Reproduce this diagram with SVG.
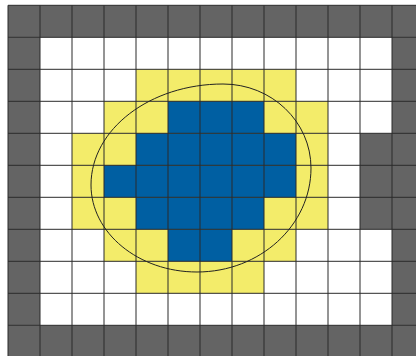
<svg xmlns="http://www.w3.org/2000/svg" width="416" height="356" viewBox="0 0 416 356">
<style>
.g{fill:#646464}
.y{fill:#f3ec6a}
.b{fill:#005fa2}
.grid{fill:none;stroke:#2b2b2b;stroke-width:1}
.shape{fill:none;stroke:#222;stroke-width:1}
</style>
<rect width="416" height="356" fill="#ffffff"/>
<g id="cells" transform="translate(8,5.3)">
<g id="walls">
<rect class="g" x="0" y="0" width="416" height="32"/>
<rect class="g" x="0" y="320" width="416" height="40"/>
<rect class="g" x="0" y="32" width="32" height="288"/>
<rect class="g" x="384" y="32" width="32" height="288"/>
<rect class="g" x="352" y="128" width="32" height="96"/>
</g>
<g id="yellow">
<rect class="y" x="128" y="64" width="160" height="32"/>
<rect class="y" x="96" y="96" width="224" height="32"/>
<rect class="y" x="64" y="128" width="256" height="96"/>
<rect class="y" x="96" y="224" width="192" height="32"/>
<rect class="y" x="128" y="256" width="128" height="32"/>
</g>
<g id="blue">
<rect class="b" x="160" y="96" width="96" height="32"/>
<rect class="b" x="128" y="128" width="160" height="32"/>
<rect class="b" x="96" y="160" width="192" height="32"/>
<rect class="b" x="128" y="192" width="128" height="32"/>
<rect class="b" x="160" y="224" width="64" height="32"/>
</g>
<path id="gridlines" class="grid" d="M0 0V352M32 0V352M64 0V352M96 0V352M128 0V352M160 0V352M192 0V352M224 0V352M256 0V352M288 0V352M320 0V352M352 0V352M384 0V352M0 0H416M0 32H416M0 64H416M0 96H416M0 128H416M0 160H416M0 192H416M0 224H416M0 256H416M0 288H416M0 320H416"/>
</g>
<path id="outline" class="shape" d="M91 185C91 129.2 150.1 84 223 84C271.6 84 311 121.6 311 168C311 225.4 260 272 197 272C138.5 272 91 233 91 185Z"/>
</svg>
